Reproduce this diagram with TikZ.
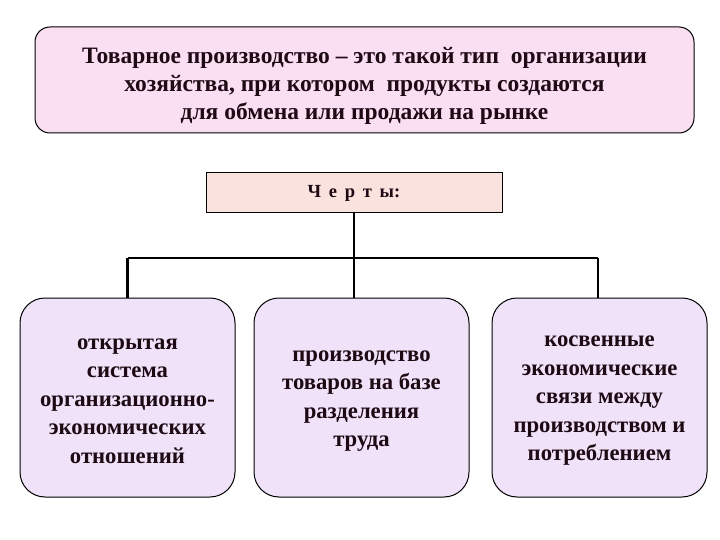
\documentclass[tikz,border=0pt]{standalone}
\usepackage{fontspec}
\setmainfont{Liberation Serif}
\usetikzlibrary{positioning}
\definecolor{defpink}{RGB}{250,222,242}
\definecolor{headpink}{RGB}{250,226,222}
\definecolor{lilac}{RGB}{240,226,248}
\definecolor{ink}{RGB}{30,10,20}
\tikzstyle{defblock} = [draw, rectangle, line width = 1pt, rounded corners = 15pt, fill = defpink, minimum width = 659pt, minimum height = 106pt]
\tikzstyle{deftext} = [text = ink, align = center, font = \fontsize{23.5}{28}\selectfont\bfseries]
\tikzstyle{headblock} = [draw, rectangle, line width = 1pt, fill = headpink, text = ink, minimum width = 296pt, minimum height = 40pt, font = \fontsize{18.5}{20}\selectfont\bfseries]
\tikzstyle{block} = [draw, rectangle, line width = 1pt, rounded corners = 25pt, fill = lilac, minimum width = 215pt, minimum height = 199pt]
\tikzstyle{blocktext} = [text = ink, align = center, font = \fontsize{22.7}{28.5}\selectfont\bfseries]
\tikzstyle{link} = [line width = 2.5pt]

\begin{document}
\begin{tikzpicture}[x = 1pt, y = -1pt]
	\useasboundingbox (0,0) rectangle (720,540);
	
		% Definition
		\node[defblock] (def) at (364.5,80) {};
		\node[deftext] (deft) at ([yshift = -6pt]def.center) {Товарное производство – это такой тип~ организации\\ хозяйства, при котором~ продукты создаются\\ для обмена или продажи на рынке};
		
		% Header
		\node[headblock] (traits) at (354,193) {\raisebox{-2pt}{Ч\,\ е\,\ р\,\ т\,\ ы:}};
		
		% Features
		\node[block] (f1) at (127.5,397.5) {};
		\node[block, right = 18pt of f1] (f2) {};
		\node[block, right = 22pt of f2] (f3) {};
		\node[blocktext] (f1t) at ([yshift = -3.5pt]f1.center) {открытая\\ система\\ организационно-\\ экономических\\ отношений};
		\node[blocktext] (f2t) at ([yshift = -3.5pt]f2.center) {производство\\ товаров на базе\\ разделения\\ труда};
		\node[blocktext] (f3t) at ([yshift = -3.5pt]f3.center) {косвенные\\ экономические\\ связи между\\ производством и\\ потреблением};
		
		% Connect all nodes defined above
		\coordinate (hm) at (354,258);
		\coordinate (hl) at (127.5,258);
		\coordinate (hr) at (598,258);
		\draw[link] (traits.south) -- (hm);
		\draw[link] (hl) -- (hr);
		\draw[link] (hl) -- (f1.north);
		\draw[link] (hm) -- (f2.north -| hm);
		\draw[link] (hr) -- (f3.north -| hr);
	
	\end{tikzpicture}
\end{document}
